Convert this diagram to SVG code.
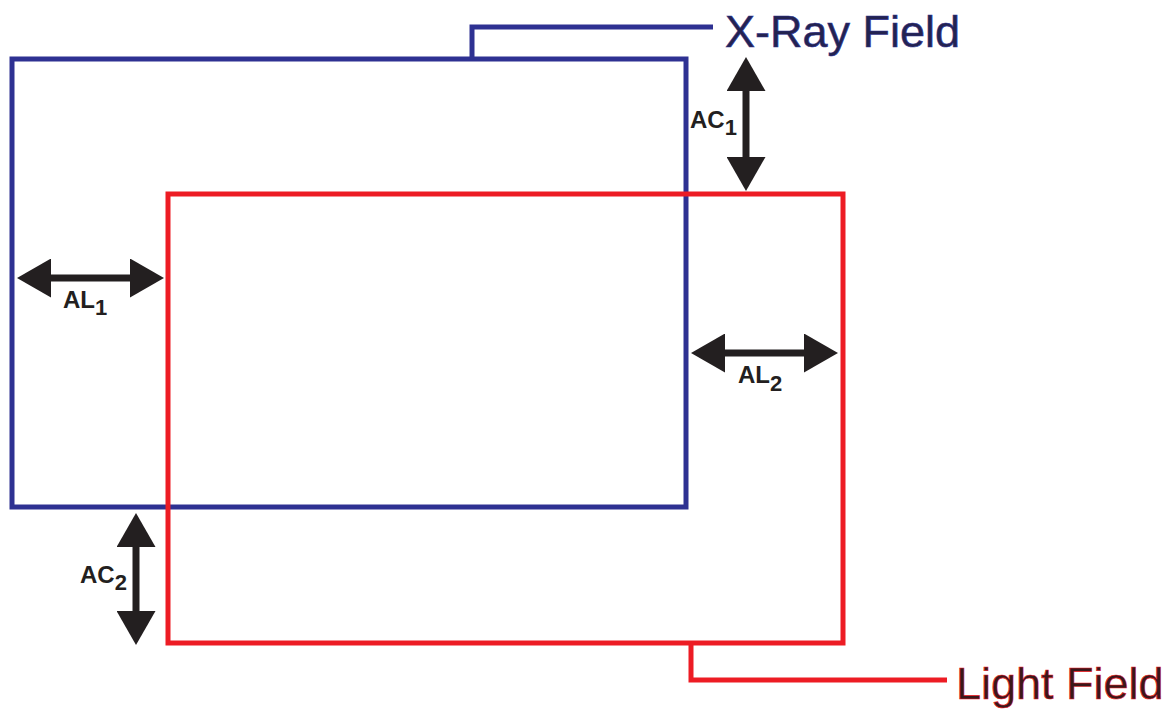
<svg xmlns="http://www.w3.org/2000/svg" width="1171" height="709" viewBox="0 0 1171 709">
<style>
.frame{fill:none;stroke-width:5;stroke-linejoin:miter}
.blue{stroke:#2e3192}
.red{stroke:#ed1c24}
.leader{fill:none;stroke-width:5}
.arrow{stroke:#231f20;stroke-width:7;fill:none;marker-start:url(#ah);marker-end:url(#ah)}
.lbl{font-family:"Liberation Sans",Arial,sans-serif;font-weight:bold;font-size:24px;fill:#231f20}
.sub{font-size:22px}
.title{font-family:"Liberation Sans",Arial,sans-serif;font-size:45px}
</style>
<defs>
<marker id="ah" viewBox="0 0 34 39" markerWidth="34" markerHeight="39" refX="0" refY="19.5" orient="auto-start-reverse" markerUnits="userSpaceOnUse">
<path d="M0,0 L34,19.5 L0,39 Z" fill="#231f20"/>
</marker>
</defs>
<rect width="1171" height="709" fill="#ffffff"/>
<g id="xray-field">
<rect class="frame blue" x="12" y="59" width="674" height="448"/>
</g>
<g id="light-field">
<rect class="frame red" x="168" y="194" width="675" height="449"/>
</g>
<g id="connectors">
<path class="leader blue" d="M472,59 V27 H713"/>
<path class="leader red" d="M691,643 V680 H947"/>
<line class="arrow" x1="746" y1="91" x2="746" y2="157"/>
<line class="arrow" x1="51" y1="278" x2="130" y2="278"/>
<line class="arrow" x1="725" y1="353" x2="804" y2="353"/>
<line class="arrow" x1="136" y1="547" x2="136" y2="611"/>
</g>
<g id="label-xray">
<text class="title" x="725" y="47" fill="#23234f" stroke="#2e3192" stroke-width="0.6">X-Ray Field</text>
</g>
<g id="label-light">
<text class="title" x="956" y="699" fill="#3a171b" stroke="#ed1c24" stroke-width="0.6">Light Field</text>
</g>
<g id="label-ac1"><text class="lbl" x="690" y="128">AC<tspan class="sub" dy="7">1</tspan></text></g>
<g id="label-al1"><text class="lbl" x="63" y="308">AL<tspan class="sub" dy="7">1</tspan></text></g>
<g id="label-al2"><text class="lbl" x="738" y="383">AL<tspan class="sub" dy="8">2</tspan></text></g>
<g id="label-ac2"><text class="lbl" x="80" y="583">AC<tspan class="sub" dy="7">2</tspan></text></g>
</svg>
